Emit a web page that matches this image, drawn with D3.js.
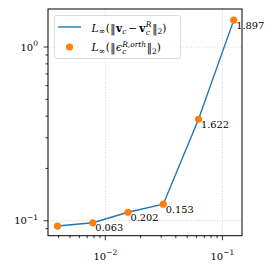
<!DOCTYPE html>
<html><head><meta charset="utf-8">
<script src="https://cdn.jsdelivr.net/npm/d3@7"></script>
<style>body{margin:0;background:#fff}svg{display:block}text{font-family:'DejaVu Serif',serif}</style>
</head><body>
<svg id="c" width="273" height="270"></svg>
<script>
const hValues = [1/256, 1/128, 1/64, 1/32, 1/16, 1/8];
const errValues = [0.0932, 0.0973, 0.1119, 0.1245, 0.3838, 1.428];
const rateLabels = ["", "0.063", "0.202", "0.153", "1.622", "1.897"];
const xMajorTicks = [0.01, 0.1];
const yMajorTicks = [0.1, 1];
const xTickExps = ["\u22122", "\u22121"];
const yTickExps = ["\u22121", "0"];

const FONT = "DejaVu Serif";
const svg = d3.select("#c");
const L = 48, R = 242, T = 9, B = 235.7;
const x = d3.scaleLog().domain([0.00324, 0.147]).range([L, R]);
const y = d3.scaleLog().domain([0.0820, 1.655]).range([B, T]);

// grid
const grid = svg.append("g").attr("stroke", "#c8c8c8").attr("stroke-width", 0.8).attr("stroke-dasharray", "1,1.6");
grid.selectAll(".gx").data(xMajorTicks).join("line")
  .attr("x1", d => x(d)).attr("x2", d => x(d)).attr("y1", T).attr("y2", B);
grid.selectAll(".gy").data(yMajorTicks).join("line")
  .attr("y1", d => y(d)).attr("y2", d => y(d)).attr("x1", L).attr("x2", R);

// minor ticks
function minors(dom) {
  const out = [];
  for (let e = -4; e <= 1; e++) for (let m = 2; m <= 9; m++) {
    const v = m * Math.pow(10, e);
    if (v >= dom[0] && v <= dom[1]) out.push(v);
  }
  return out;
}
const tk = svg.append("g").attr("stroke", "#000").attr("stroke-width", 0.8);
tk.selectAll(".mx").data(minors(x.domain())).join("line")
  .attr("x1", d => x(d)).attr("x2", d => x(d)).attr("y1", B).attr("y2", B + 2.5);
tk.selectAll(".my").data(minors(y.domain())).join("line")
  .attr("y1", d => y(d)).attr("y2", d => y(d)).attr("x1", L).attr("x2", L - 2.5);
tk.selectAll(".Mx").data(xMajorTicks).join("line")
  .attr("x1", d => x(d)).attr("x2", d => x(d)).attr("y1", B).attr("y2", B + 4.5);
tk.selectAll(".My").data(yMajorTicks).join("line")
  .attr("y1", d => y(d)).attr("y2", d => y(d)).attr("x1", L).attr("x2", L - 4.5);

// tick labels
xMajorTicks.forEach((v, i) => {
  const t = svg.append("text").attr("font-family", FONT).attr("font-size", 10)
    .attr("text-anchor", "middle").attr("x", x(v)).attr("y", 259.5);
  t.append("tspan").text("10");
  t.append("tspan").attr("font-size", 7.5).attr("dy", -4.5).text(xTickExps[i]);
});
yMajorTicks.forEach((v, i) => {
  const t = svg.append("text").attr("font-family", FONT).attr("font-size", 10)
    .attr("text-anchor", "end").attr("x", L - 10).attr("y", y(v) + 3.5);
  t.append("tspan").text("10");
  t.append("tspan").attr("font-size", 7.5).attr("dy", -4.5).text(yTickExps[i]);
});

// line + points
const pts = hValues.map((h, i) => [h, errValues[i]]);
svg.append("path").datum(pts)
  .attr("fill", "none").attr("stroke", "#1f77b4").attr("stroke-width", 1.4)
  .attr("d", d3.line().x(d => x(d[0])).y(d => y(d[1])));
svg.selectAll(".pt").data(pts).join("circle")
  .attr("cx", d => x(d[0])).attr("cy", d => y(d[1])).attr("r", 3.6).attr("fill", "#ff7f0e");

// rate labels
svg.selectAll(".rl").data(pts).join("text")
  .attr("font-family", FONT).attr("font-size", 9.8)
  .attr("x", d => x(d[0]) + 2.5).attr("y", (d) => y(d[1]) + 8.5)
  .text((d, i) => rateLabels[i]);

// frame
svg.append("rect").attr("x", L).attr("y", T).attr("width", R - L).attr("height", B - T)
  .attr("fill", "none").attr("stroke", "#000").attr("stroke-width", 1);

// legend
const lg = svg.append("g");
lg.append("rect").attr("x", 54.5).attr("y", 15.5).attr("width", 126).attr("height", 43)
  .attr("rx", 2).attr("fill", "#fff").attr("fill-opacity", 0.8).attr("stroke", "#d0d0d0").attr("stroke-width", 0.8);
lg.append("line").attr("x1", 58).attr("x2", 81).attr("y1", 27).attr("y2", 27)
  .attr("stroke", "#1f77b4").attr("stroke-width", 1.4);
lg.append("circle").attr("cx", 69.5).attr("cy", 47).attr("r", 3.6).attr("fill", "#ff7f0e");

function mathText(x0, yb, segs) {
  let cx = x0, lastX = x0;
  segs.forEach(s => {
    const size = s.size || 10.5;
    const startX = s.stack ? lastX : cx;
    const t = lg.append("text").attr("font-family", FONT).attr("font-size", size)
      .attr("x", startX).attr("y", yb + (s.dy || 0)).text(s.t);
    if (s.it) t.attr("font-style", "italic");
    if (s.bold) t.attr("font-weight", "bold");
    const w = t.node().getComputedTextLength();
    if (!s.stack) lastX = cx;
    if (s.stack) cx = Math.max(cx, startX + w); else cx = startX + w;
    cx += (s.sp || 0);
  });
}
mathText(91.5, 31.5, [
  {t: "L", it: true},
  {t: "\u221e", size: 8, dy: 2.5, sp: 0.5},
  {t: "(", sp: 0.5},
  {t: "\u2016", sp: 0.5},
  {t: "v", bold: true},
  {t: "c", it: true, size: 7.5, dy: 2.5, sp: 2},
  {t: "\u2212", sp: 2},
  {t: "v", bold: true, sp: 0.5},
  {t: "R", it: true, size: 7.5, dy: -4.5},
  {t: "c", it: true, size: 7.5, dy: 3, stack: true, sp: 0.8},
  {t: "\u2016"},
  {t: "2", size: 7.5, dy: 2.5},
  {t: ")"}
]);
mathText(91.5, 51, [
  {t: "L", it: true},
  {t: "\u221e", size: 8, dy: 2.5, sp: 0.5},
  {t: "(", sp: 0.5},
  {t: "\u2016", sp: 0.5},
  {t: "\u03f5", it: true, sp: 0.3},
  {t: "R,orth", it: true, size: 7.5, dy: -4.5},
  {t: "c", it: true, size: 7.5, dy: 3, stack: true, sp: 0.5},
  {t: "\u2016"},
  {t: "2", size: 7.5, dy: 2.5},
  {t: ")"}
]);
</script>
</body></html>
